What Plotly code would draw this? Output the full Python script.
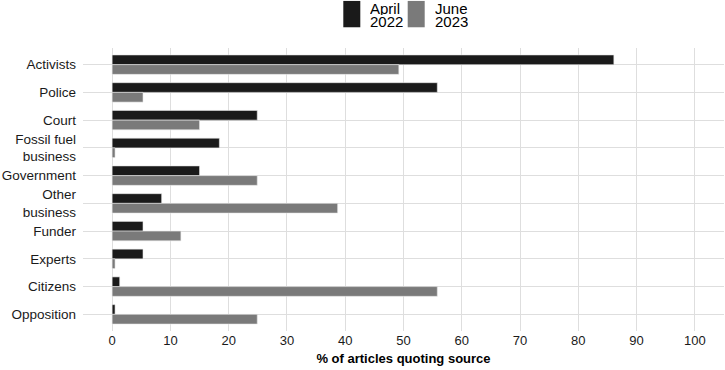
import plotly.graph_objects as go

categories = ["Activists", "Police", "Court", "Fossil fuel<br>business", "Government",
              "Other<br>business", "Funder", "Experts", "Citizens", "Opposition"]
april_2022 = [86.1, 55.8, 24.9, 18.4, 15.0, 8.5, 5.3, 5.3, 1.3, 0.5]
june_2023 = [49.2, 5.3, 15.0, 0.5, 24.9, 38.7, 11.8, 0.5, 55.8, 24.9]
series_names = ["April 2022", "June 2023"]
legend_lines = [["April", "2022"], ["June", "2023"]]
colors = ["#1a1a1a", "#7a7a7a"]
x_ticks = [0, 10, 20, 30, 40, 50, 60, 70, 80, 90, 100]

FONT = "Liberation Sans, Arial, sans-serif"
W, H = 725, 370
ML, MR, MT, MB = 83, 1, 48, 39.4
PW, PH = W - ML - MR, H - MT - MB


def px(xp):
    return (xp - ML) / PW


def py(yp):
    return (H - MB - yp) / PH


fig = go.Figure()
for name, vals, col in zip(series_names, [april_2022, june_2023], colors):
    fig.add_trace(go.Bar(
        y=categories, x=vals, name=name, orientation="h",
        marker=dict(color=col, line=dict(color="#e8e8e8", width=0.6)),
        showlegend=False,
    ))

# custom legend keys (tall rectangles like the reference)
legend_x = [343.3, 407.7]
for lx, col in zip(legend_x, colors):
    fig.add_shape(type="rect", xref="paper", yref="paper",
                  x0=px(lx), x1=px(lx + 17), y0=py(27.3), y1=py(1),
                  line=dict(width=0), fillcolor=col, layer="above")

for lx, lines in zip(legend_x, legend_lines):
    for ypix, txt in zip([8.5, 22], lines):
        fig.add_annotation(xref="paper", yref="paper",
                           x=px(lx + 25), y=py(ypix),
                           text=txt, showarrow=False, xanchor="left", yanchor="middle",
                           height=13, valign="middle",
                           align="left", font=dict(size=15, color="#000000", family=FONT))

fig.update_layout(
    width=W, height=H,
    margin=dict(l=ML, r=MR, t=MT, b=MB),
    paper_bgcolor="white", plot_bgcolor="white",
    barmode="group", bargap=0.3, bargroupgap=0.0,
    font=dict(family=FONT, size=13.5, color="#1a1a1a"),
    xaxis=dict(range=[-5, 105], tickvals=x_ticks, showgrid=True, gridcolor="#dedede",
               gridwidth=1, zeroline=False, showline=False, ticks="",
               tickfont=dict(size=13, color="#1a1a1a"),
               title=dict(text="<b>% of articles quoting source</b>", standoff=6,
                          font=dict(size=13, color="#000000"))),
    yaxis=dict(categoryorder="array", categoryarray=categories, range=[9.6, -0.6],
               showgrid=True, gridcolor="#dedede", gridwidth=1, zeroline=False,
               ticks="", ticklabelstandoff=6, tickfont=dict(size=13.5, color="#1a1a1a")),
)

fig.write_html("out.html")
